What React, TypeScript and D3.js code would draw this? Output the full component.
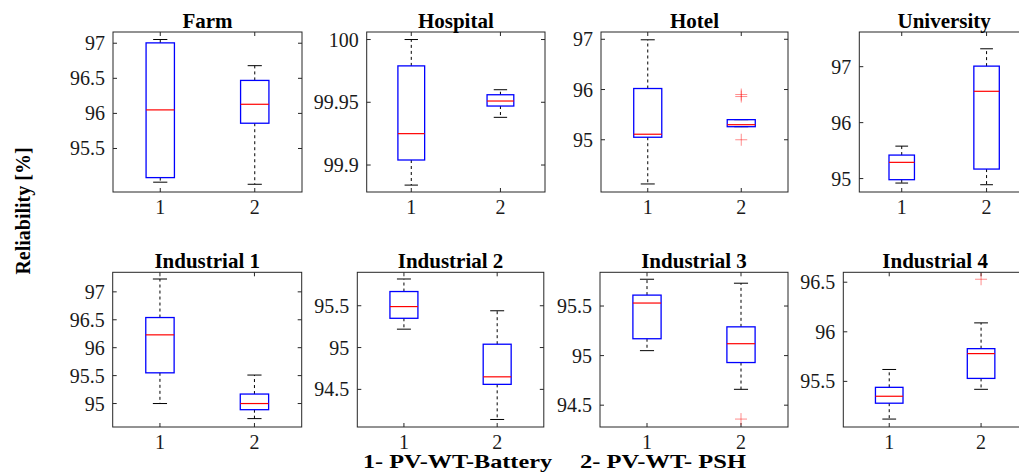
import React, { useEffect, useRef } from "react";
import * as d3 from "d3";

// panel titles
const panels = ["Farm", "Hospital", "Hotel", "University", "Industrial 1", "Industrial 2", "Industrial 3", "Industrial 4"];
const categories = [1, 2];

// y axis limits and tick values of each panel
const yDomains = [
  [94.88, 97.16], [99.8785, 100.006], [93.96, 97.145], [94.76, 97.62],
  [94.58, 97.35], [94.05, 95.9], [94.28, 95.84], [95.04, 96.6],
];
const yTicks = [
  [95.5, 96, 96.5, 97], [99.9, 99.95, 100], [95, 96, 97], [95, 96, 97],
  [95, 95.5, 96, 96.5, 97], [94.5, 95, 95.5], [94.5, 95, 95.5], [95.5, 96, 96.5],
];

// box statistics, [config 1, config 2] per panel
const whiskerLow = [
  [95.02, 94.99], [99.884, 99.938], [94.12, 95.26], [94.92, 94.89],
  [95.0, 94.73], [95.22, 94.14], [95.05, 94.66], [95.12, 95.42],
];
const q1 = [
  [95.085, 95.86], [99.904, 99.947], [95.05, 95.26], [94.98, 95.17],
  [95.55, 94.89], [95.35, 94.56], [95.17, 94.93], [95.28, 95.53],
];
const median = [
  [96.05, 96.13], [99.925, 99.951], [95.11, 95.3], [95.29, 96.56],
  [96.23, 95.0], [95.49, 94.65], [95.53, 95.12], [95.35, 95.78],
];
const q3 = [
  [97.005, 96.47], [99.979, 99.956], [96.02, 95.4], [95.42, 97.01],
  [96.54, 95.17], [95.67, 95.04], [95.61, 95.29], [95.44, 95.83],
];
const whiskerHigh = [
  [97.053, 96.68], [100.0, 99.96], [96.99, 95.4], [95.58, 97.32],
  [97.23, 95.51], [95.82, 95.44], [95.77, 95.73], [95.62, 96.09],
];
const outliers = [
  [[], []], [[], []], [[], [95.86, 95.9, 95.0]], [[], []],
  [[], []], [[], []], [[], [94.36]], [[], [96.53]],
];

// frame of each panel in pixels [left, right, top, bottom]
const frames = [
  [113, 302, 32, 192], [366.7, 545, 32, 192], [601, 788, 32, 192], [859.3, 1029, 32, 192],
  [112.7, 301.7, 272.3, 427], [357.3, 543.8, 272.3, 427], [600, 788, 272.3, 427], [843.3, 1027, 272.3, 427],
];

const W = 1019;
const H = 473;
const FONT = "'Liberation Serif', 'Times New Roman', serif";
const AXIS = "#262626";

function App() {
  const ref = useRef<SVGSVGElement>(null);

  useEffect(() => {
    const svg = d3.select(ref.current);
    svg.selectAll("*").remove();

    panels.forEach((name, p) => {
      const [l, r, t, b] = frames[p];
      const x = d3.scaleLinear().domain([0.5, 2.5]).range([l, r]);
      const y = d3.scaleLinear().domain(yDomains[p]).range([b, t]);
      const g = svg.append("g");
      const bw = x(1.15) - x(1); // half box width
      const cw = bw / 2; // half cap width

      g.append("rect")
        .attr("x", l).attr("y", t).attr("width", r - l).attr("height", b - t)
        .attr("fill", "white").attr("stroke", AXIS).attr("stroke-width", 1);

      // inward ticks on all four sides
      yTicks[p].forEach((v) => {
        g.append("line").attr("x1", l).attr("x2", l + 4).attr("y1", y(v)).attr("y2", y(v)).attr("stroke", AXIS);
        g.append("line").attr("x1", r).attr("x2", r - 4).attr("y1", y(v)).attr("y2", y(v)).attr("stroke", AXIS);
        g.append("text")
          .attr("x", l - 8).attr("y", y(v)).attr("dy", "0.35em")
          .attr("text-anchor", "end").attr("font-family", FONT).attr("font-size", 20)
          .attr("fill", "#1a1a1a").text(String(v));
      });
      categories.forEach((c) => {
        g.append("line").attr("x1", x(c)).attr("x2", x(c)).attr("y1", b).attr("y2", b - 4).attr("stroke", AXIS);
        g.append("line").attr("x1", x(c)).attr("x2", x(c)).attr("y1", t).attr("y2", t + 4).attr("stroke", AXIS);
        g.append("text")
          .attr("x", x(c)).attr("y", b + 22)
          .attr("text-anchor", "middle").attr("font-family", FONT).attr("font-size", 20)
          .attr("fill", "#1a1a1a").text(String(c));
      });

      g.append("text")
        .attr("x", (l + r) / 2).attr("y", t - 4)
        .attr("text-anchor", "middle").attr("font-family", FONT).attr("font-weight", "bold")
        .attr("font-size", 21).attr("fill", "#000").text(name);

      categories.forEach((c, i) => {
        const cx = x(c);
        // dashed whiskers
        g.append("line").attr("x1", cx).attr("x2", cx)
          .attr("y1", y(q3[p][i])).attr("y2", y(whiskerHigh[p][i]))
          .attr("stroke", "#000").attr("stroke-dasharray", "3,3");
        g.append("line").attr("x1", cx).attr("x2", cx)
          .attr("y1", y(q1[p][i])).attr("y2", y(whiskerLow[p][i]))
          .attr("stroke", "#000").attr("stroke-dasharray", "3,3");
        // caps
        [whiskerHigh[p][i], whiskerLow[p][i]].forEach((v) => {
          g.append("line").attr("x1", cx - cw).attr("x2", cx + cw)
            .attr("y1", y(v)).attr("y2", y(v)).attr("stroke", "#000");
        });
        // box
        g.append("rect")
          .attr("x", cx - bw).attr("width", 2 * bw)
          .attr("y", y(q3[p][i])).attr("height", y(q1[p][i]) - y(q3[p][i]))
          .attr("fill", "none").attr("stroke", "#0000ff").attr("stroke-width", 1.3);
        // median
        g.append("line").attr("x1", cx - bw).attr("x2", cx + bw)
          .attr("y1", y(median[p][i])).attr("y2", y(median[p][i]))
          .attr("stroke", "#ff0000").attr("stroke-width", 1.2);
        // outliers
        (outliers[p][i] as number[]).forEach((v) => {
          const oy = y(v);
          g.append("path")
            .attr("d", `M${cx - 6},${oy}H${cx + 6}M${cx},${oy - 6}V${oy + 6}`)
            .attr("stroke", "#ff0000").attr("stroke-opacity", 0.45).attr("fill", "none");
        });
      });
    });

    svg.append("text")
      .attr("transform", "translate(30,211) rotate(-90)")
      .attr("text-anchor", "middle").attr("font-family", FONT).attr("font-weight", "bold")
      .attr("font-size", 20).attr("fill", "#000").text("Reliability [%]");

    svg.append("text")
      .attr("x", 363).attr("y", 468)
      .attr("font-family", FONT).attr("font-weight", "bold").attr("font-size", 19)
      .attr("textLength", 189).attr("lengthAdjust", "spacingAndGlyphs")
      .attr("fill", "#000").text("1- PV-WT-Battery");
    svg.append("text")
      .attr("x", 580).attr("y", 468)
      .attr("font-family", FONT).attr("font-weight", "bold").attr("font-size", 19)
      .attr("textLength", 166).attr("lengthAdjust", "spacingAndGlyphs")
      .attr("fill", "#000").text("2- PV-WT- PSH");
  }, []);

  return (
    <svg
      ref={ref}
      width={W}
      height={H}
      style={{ position: "absolute", left: 0, top: 0, background: "white" }}
    />
  );
}

export default App;
